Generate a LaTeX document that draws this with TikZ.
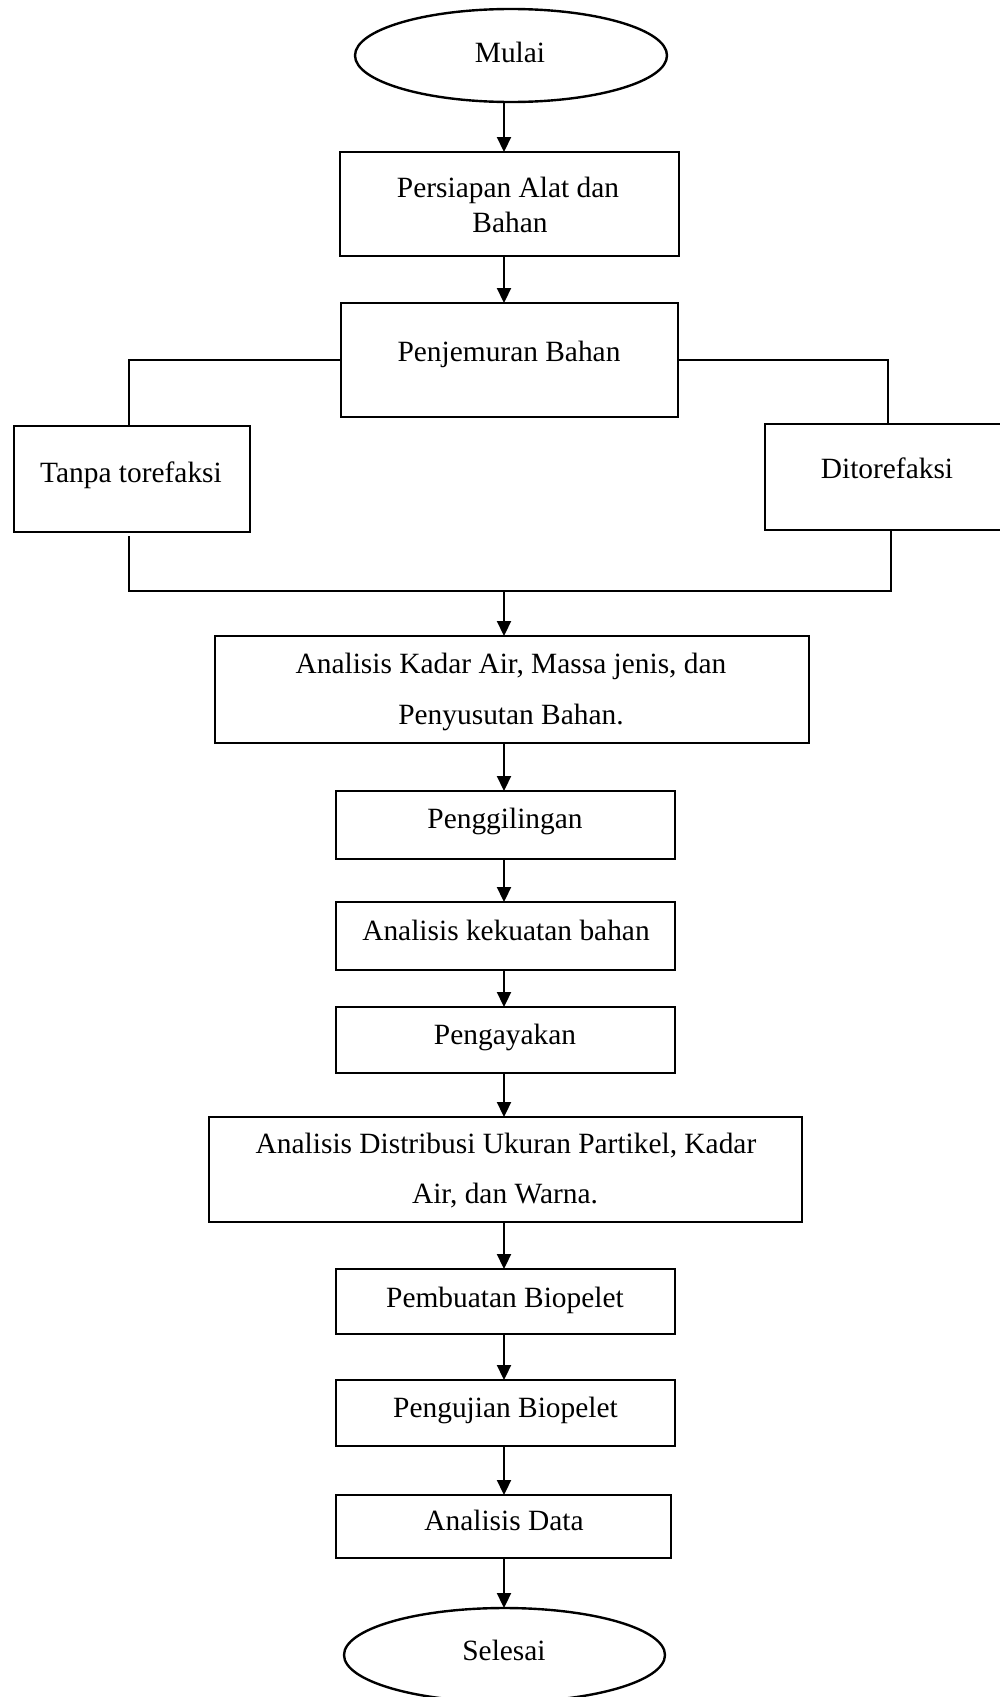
\documentclass[tikz,border=0pt]{standalone}
\usepackage{fontspec}
\setmainfont{Liberation Serif}
\usetikzlibrary{arrows.meta,shapes.geometric}
\begin{document}
\begin{tikzpicture}[x=0.5pt,y=-0.5pt,
  box/.style={draw,line width=1.2pt,rectangle,inner sep=0pt,outer sep=0pt},
  oval/.style={draw,line width=1.2pt,ellipse,inner sep=0pt,outer sep=0pt},
  txt/.style={anchor=base,inner sep=0pt,font=\fontsize{14.7}{17.6}\selectfont},
  arr/.style={line width=1.1pt,-{Triangle[length=7.5pt,width=7pt]}},
  ln/.style={line width=1.1pt}]
\useasboundingbox (0,0) rectangle (1000,1697);
\clip (0,0) rectangle (1000,1697);
% shapes
\node[oval,minimum width=156pt,minimum height=46.5pt] (mulai) at (511,55.5) {};
\node[box,minimum width=169.5pt,minimum height=52pt] (pers) at (509.5,204) {};
\node[box,minimum width=168.5pt,minimum height=57pt] (pen) at (509.5,360) {};
\node[box,minimum width=118pt,minimum height=53pt] (tanpa) at (132,479) {};
\node[box,minimum width=122.5pt,minimum height=53pt] (dito) at (887.5,477) {};
\node[box,minimum width=297pt,minimum height=53.5pt] (kadar) at (512,689.5) {};
\node[box,minimum width=169.5pt,minimum height=34pt] (giling) at (505.5,825) {};
\node[box,minimum width=169.5pt,minimum height=34pt] (kuat) at (505.5,936) {};
\node[box,minimum width=169.5pt,minimum height=33pt] (ayak) at (505.5,1040) {};
\node[box,minimum width=296.5pt,minimum height=52.5pt] (distr) at (505.5,1169.5) {};
\node[box,minimum width=169.5pt,minimum height=32.5pt] (buat) at (505.5,1301.5) {};
\node[box,minimum width=169.5pt,minimum height=33pt] (uji) at (505.5,1413) {};
\node[box,minimum width=167.5pt,minimum height=31.5pt] (data) at (503.5,1526.5) {};
\node[oval,minimum width=160.5pt,minimum height=47pt] (selesai) at (504.5,1655) {};
% texts
\node[txt] (t-mulai) at (510,62) {Mulai};
\node[txt] (t-pers1) at (508,197) {Persiapan Alat dan};
\node[txt] (t-pers2) at (510,232) {Bahan};
\node[txt] (t-pen) at (509,361) {Penjemuran Bahan};
\node[txt] (t-tanpa) at (131,482) {Tanpa torefaksi};
\node[txt] (t-dito) at (887,478) {Ditorefaksi};
\node[txt] (t-kadar1) at (511,673) {Analisis Kadar Air, Massa jenis, dan};
\node[txt] (t-kadar2) at (511,724) {Penyusutan Bahan.};
\node[txt] (t-giling) at (505,828) {Penggilingan};
\node[txt] (t-kuat) at (506,940) {Analisis kekuatan bahan};
\node[txt] (t-ayak) at (505,1044) {Pengayakan};
\node[txt] (t-distr1) at (506,1153) {Analisis Distribusi Ukuran Partikel, Kadar};
\node[txt] (t-distr2) at (505,1203) {Air, dan Warna.};
\node[txt] (t-buat) at (505,1307) {Pembuatan Biopelet};
\node[txt] (t-uji) at (505.5,1417) {Pengujian Biopelet};
\node[txt] (t-data) at (504,1530) {Analisis Data};
\node[txt] (t-selesai) at (504,1660) {Selesai};
% connectors
\coordinate (col) at (504,0);
\coordinate (lx) at (129,0);
\coordinate (rx) at (888,0);
\coordinate (rb) at (891,0);
\coordinate (jn) at (504,591);
\draw[arr] (mulai.south -| col) -- (pers.north -| col);
\draw[arr] (pers.south -| col) -- (pen.north -| col);
\draw[ln] (pen.west) -- (pen.west -| lx) -- (tanpa.north -| lx);
\draw[ln] (pen.east) -- (pen.east -| rx) -- (dito.north -| rx);
\draw[ln] ([yshift=-2pt]tanpa.south -| lx) -- (jn -| lx) -- (jn -| rb) -- (dito.south -| rb);
\draw[arr] (jn) -- (kadar.north -| col);
\draw[arr] (kadar.south -| col) -- (giling.north -| col);
\draw[arr] (giling.south -| col) -- (kuat.north -| col);
\draw[arr] (kuat.south -| col) -- (ayak.north -| col);
\draw[arr] (ayak.south -| col) -- (distr.north -| col);
\draw[arr] (distr.south -| col) -- (buat.north -| col);
\draw[arr] (buat.south -| col) -- (uji.north -| col);
\draw[arr] (uji.south -| col) -- (data.north -| col);
\draw[arr] (data.south -| col) -- (selesai.north -| col);
\end{tikzpicture}
\end{document}
